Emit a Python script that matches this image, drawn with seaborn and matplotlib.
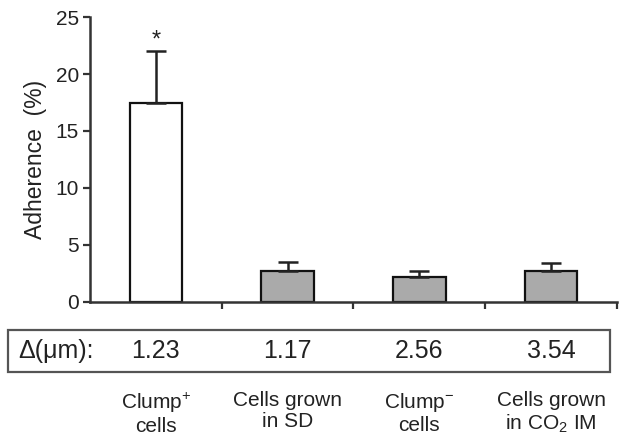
import matplotlib
matplotlib.use("Agg")
import matplotlib.pyplot as plt
import matplotlib.transforms as mtransforms
from matplotlib.patches import Rectangle
import seaborn as sns
import pandas as pd

categories = ["Clump$^{+}$\ncells", "Cells grown\nin SD", "Clump$^{-}$\ncells", "Cells grown\nin CO$_2$ IM"]
adherence = [17.5, 2.7, 2.2, 2.7]
err_upper = [4.5, 0.8, 0.5, 0.7]
delta_um = ["1.23", "1.17", "2.56", "3.54"]
bar_colors = ["#ffffff", "#aaaaaa", "#aaaaaa", "#aaaaaa"]
yticks = [0, 5, 10, 15, 20, 25]

sns.set_theme(style="white")
plt.rcParams["font.family"] = ["Liberation Sans", "DejaVu Sans"]
plt.rcParams["mathtext.default"] = "regular"

df = pd.DataFrame({"cat": categories, "val": adherence})

fig = plt.figure(figsize=(6.25, 4.48), dpi=100)
ax = fig.add_axes([0.144, 0.326, 0.843, 0.636])

sns.barplot(data=df, x="cat", y="val", hue="cat", palette=bar_colors, legend=False,
            width=0.4, edgecolor="#111111", linewidth=1.6, errorbar=None, ax=ax)

xs = list(range(len(categories)))
ax.errorbar(xs, adherence, yerr=[[0] * len(xs), err_upper], fmt="none",
            ecolor="#222222", elinewidth=1.8, capsize=7, capthick=1.8, zorder=1)

ax.set_ylim(0, 25)
ax.set_xlim(-0.5, 3.5)
ax.set_yticks(yticks)
ax.set_yticklabels([str(t) for t in yticks], fontsize=15, color="#222222")
ax.set_ylabel("Adherence  (%)", fontsize=16.5, color="#222222", labelpad=6)
ax.set_xlabel("")

for side in ["top", "right"]:
    ax.spines[side].set_visible(False)
for side in ["left", "bottom"]:
    ax.spines[side].set_color("#333333")
    ax.spines[side].set_linewidth(1.8)

ax.tick_params(axis="y", direction="out", length=5, width=1.6, color="#333333", left=True, pad=3)
ax.set_xticks(xs)
ax.set_xticklabels(categories, fontsize=15, color="#222222", linespacing=1.15)
ax.tick_params(axis="x", which="major", length=0, pad=64)
ax.set_xticks([0.5, 1.5, 2.5, 3.5], minor=True)
ax.tick_params(axis="x", which="minor", direction="out", length=5, width=1.6, color="#333333", bottom=True)

# significance star
ax.text(0, 22.9, "*", ha="center", va="center", fontsize=17, color="#222222")

# delta table box
fig.patches.append(Rectangle((8 / 625, 1 - 372 / 448), (610 - 8) / 625, (372 - 330) / 448,
                             transform=fig.transFigure, fill=False, edgecolor="#555555", linewidth=1.6))
ytab = 1 - 351 / 448
fig.text(18 / 625, ytab, "Δ(μm):", ha="left", va="center", fontsize=18, color="#222222")
trans = mtransforms.blended_transform_factory(ax.transData, fig.transFigure)
for x, d in zip(xs, delta_um):
    ax.text(x, ytab, d, transform=trans, ha="center", va="center", fontsize=18,
            color="#222222", clip_on=False)

fig.savefig("out.png", dpi=100)
